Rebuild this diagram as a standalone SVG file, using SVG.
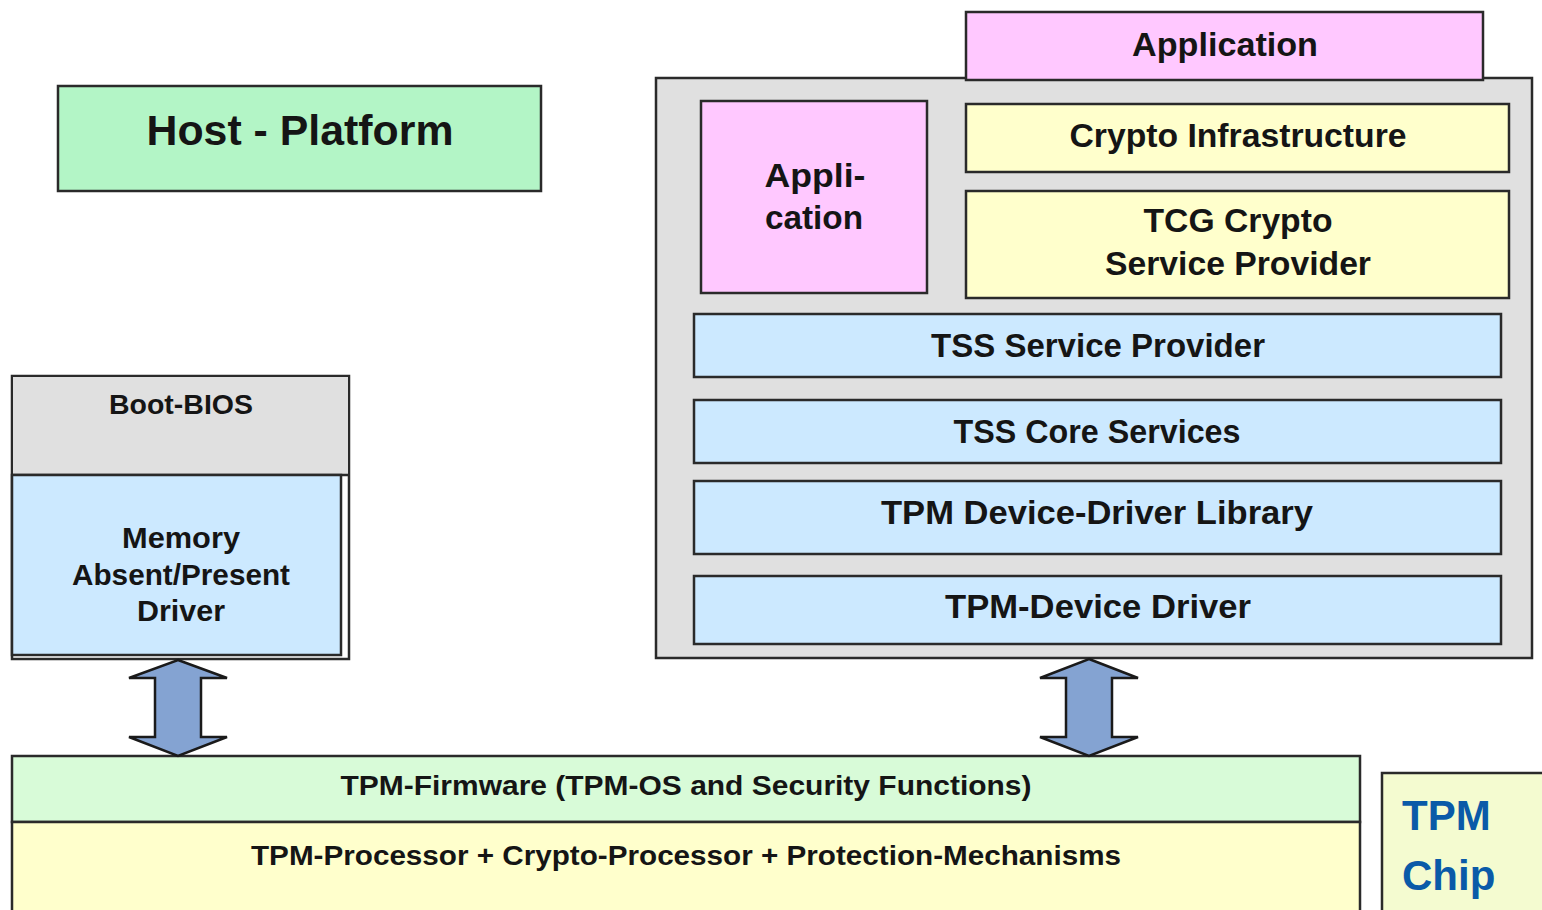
<svg xmlns="http://www.w3.org/2000/svg" width="1542" height="910" viewBox="0 0 1542 910">
<style>
.b{stroke:#2a2a2a;stroke-width:2.5}
.t{font-family:"Liberation Sans",Arial,sans-serif;font-weight:bold;fill:#151515;text-anchor:middle}
.arrow{fill:#84a3d2;stroke:#1a1a1a;stroke-width:2.5;stroke-linejoin:miter}
</style>
<rect width="1542" height="910" fill="#ffffff"/>
<g id="host-platform">
<rect class="b" x="58" y="86" width="483" height="105" fill="#b3f5c6"/>
<text class="t" x="300" y="145" font-size="42" textLength="307" lengthAdjust="spacingAndGlyphs">Host - Platform</text>
</g>
<g id="boot-bios">
<rect class="b" x="12" y="376" width="337" height="283" fill="#ffffff"/>
<rect x="13" y="377" width="335" height="98" fill="#e0e0e0"/>
<line class="b" x1="12" y1="475" x2="349" y2="475"/>
<rect class="b" x="12" y="475" width="329" height="180" fill="#cce9ff"/>
<text class="t" x="181" y="414" font-size="27" textLength="144" lengthAdjust="spacingAndGlyphs">Boot-BIOS</text>
<text class="t" x="181" y="548" font-size="29" textLength="118" lengthAdjust="spacingAndGlyphs">Memory</text>
<text class="t" x="181" y="585" font-size="29" textLength="218" lengthAdjust="spacingAndGlyphs">Absent/Present</text>
<text class="t" x="181" y="621" font-size="29" textLength="88" lengthAdjust="spacingAndGlyphs">Driver</text>
</g>
<g id="tss-container">
<rect class="b" x="656" y="78" width="876" height="580" fill="#e0e0e0"/>
</g>
<g id="application">
<rect class="b" x="966" y="12" width="517" height="68" fill="#ffc8ff"/>
<text class="t" x="1225" y="56" font-size="33" textLength="186" lengthAdjust="spacingAndGlyphs">Application</text>
</g>
<g id="appli-cation">
<rect class="b" x="701" y="101" width="226" height="192" fill="#ffc8ff"/>
<text class="t" x="815" y="187" font-size="33" textLength="101" lengthAdjust="spacingAndGlyphs">Appli-</text>
<text class="t" x="814" y="229" font-size="33" textLength="98" lengthAdjust="spacingAndGlyphs">cation</text>
</g>
<g id="crypto-infrastructure">
<rect class="b" x="966" y="104" width="543" height="68" fill="#ffffcc"/>
<text class="t" x="1238" y="147" font-size="33" textLength="337" lengthAdjust="spacingAndGlyphs">Crypto Infrastructure</text>
</g>
<g id="tcg-csp">
<rect class="b" x="966" y="191" width="543" height="107" fill="#ffffcc"/>
<text class="t" x="1238" y="232" font-size="33" textLength="189" lengthAdjust="spacingAndGlyphs">TCG Crypto</text>
<text class="t" x="1238" y="275" font-size="33" textLength="266" lengthAdjust="spacingAndGlyphs">Service Provider</text>
</g>
<g id="tss-service-provider">
<rect class="b" x="694" y="314" width="807" height="63" fill="#cce9ff"/>
<text class="t" x="1098" y="357" font-size="33" textLength="334" lengthAdjust="spacingAndGlyphs">TSS Service Provider</text>
</g>
<g id="tss-core-services">
<rect class="b" x="694" y="400" width="807" height="63" fill="#cce9ff"/>
<text class="t" x="1097" y="443" font-size="33" textLength="287" lengthAdjust="spacingAndGlyphs">TSS Core Services</text>
</g>
<g id="tpm-ddl">
<rect class="b" x="694" y="481" width="807" height="73" fill="#cce9ff"/>
<text class="t" x="1097" y="524" font-size="33" textLength="432" lengthAdjust="spacingAndGlyphs">TPM Device-Driver Library</text>
</g>
<g id="tpm-device-driver">
<rect class="b" x="694" y="576" width="807" height="68" fill="#cce9ff"/>
<text class="t" x="1098" y="618" font-size="33" textLength="306" lengthAdjust="spacingAndGlyphs">TPM-Device Driver</text>
</g>
<g id="tpm-firmware">
<rect class="b" x="12" y="756" width="1348" height="66" fill="#d8fbd8"/>
<text class="t" x="686" y="795" font-size="28" textLength="691" lengthAdjust="spacingAndGlyphs">TPM-Firmware (TPM-OS and Security Functions)</text>
</g>
<g id="tpm-processor">
<rect class="b" x="12" y="822" width="1348" height="100" fill="#ffffcc"/>
<text class="t" x="686" y="865" font-size="28" textLength="870" lengthAdjust="spacingAndGlyphs">TPM-Processor + Crypto-Processor + Protection-Mechanisms</text>
</g>
<g id="tpm-chip">
<rect class="b" x="1382" y="773" width="170" height="150" fill="#f4fbd0"/>
<text x="1402" y="830" font-family="Liberation Sans,Arial,sans-serif" font-weight="bold" font-size="42" fill="#0a5aa8">TPM</text>
<text x="1402" y="890" font-family="Liberation Sans,Arial,sans-serif" font-weight="bold" font-size="42" fill="#0a5aa8">Chip</text>
</g>
<g id="connectors">
<polygon class="arrow" points="178,660 227,678 201,678 201,737 227,737 178,756 129,737 155,737 155,678 129,678"/>
<polygon class="arrow" points="1089,659 1138,678 1112,678 1112,737 1138,737 1089,756 1040,737 1066,737 1066,678 1040,678"/>
</g>
</svg>
